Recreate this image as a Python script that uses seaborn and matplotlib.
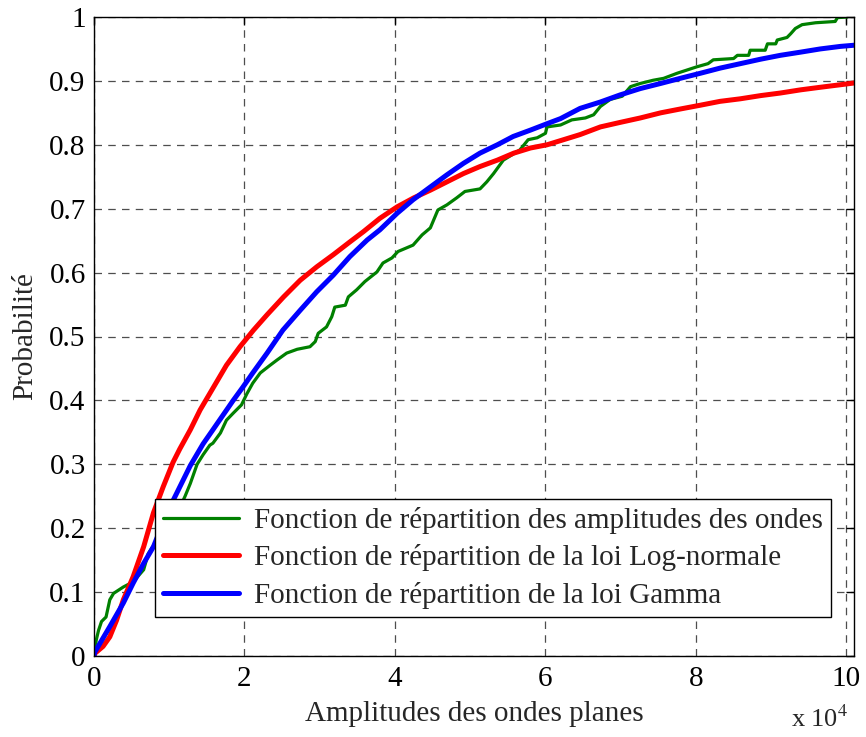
import numpy as np
import pandas as pd
import matplotlib
matplotlib.use("Agg")
import matplotlib.pyplot as plt
import seaborn as sns

# ---- data (x in units of 1e4) ----
emp_x = [0.00, 0.03, 0.06, 0.10, 0.16, 0.21, 0.26, 0.39, 0.52, 0.66, 0.72, 0.78, 0.88, 1.01, 1.14,
         1.21, 1.28, 1.37, 1.45, 1.54, 1.58, 1.68, 1.76, 1.85, 1.96, 2.03, 2.11, 2.21, 2.34, 2.43,
         2.56, 2.70, 2.87, 2.94, 2.98, 3.09, 3.16, 3.20, 3.34, 3.38, 3.49, 3.60, 3.76, 3.84, 3.96,
         4.04, 4.24, 4.36, 4.47, 4.57, 4.69, 4.82, 4.93, 5.13, 5.22, 5.31, 5.44, 5.55, 5.66, 5.77,
         5.89, 6.00, 6.02, 6.20, 6.35, 6.53, 6.64, 6.73, 6.86, 7.02, 7.13, 7.26, 7.43, 7.57, 7.75,
         7.88, 8.01, 8.16, 8.23, 8.50, 8.55, 8.70, 8.72, 8.92, 8.95, 9.06, 9.08, 9.21, 9.26, 9.32,
         9.41, 9.59, 9.85, 9.88, 10.01]
emp_y = [0.000, 0.025, 0.040, 0.054, 0.061, 0.088, 0.098, 0.108, 0.116, 0.135, 0.160, 0.171, 0.180, 0.200, 0.232,
         0.250, 0.270, 0.300, 0.315, 0.330, 0.333, 0.349, 0.369, 0.380, 0.393, 0.410, 0.427, 0.443, 0.455, 0.463,
         0.474, 0.480, 0.484, 0.492, 0.505, 0.515, 0.531, 0.546, 0.549, 0.562, 0.573, 0.586, 0.601, 0.615, 0.623,
         0.633, 0.643, 0.659, 0.670, 0.698, 0.706, 0.717, 0.727, 0.731, 0.742, 0.755, 0.776, 0.784, 0.792, 0.808,
         0.811, 0.818, 0.828, 0.831, 0.839, 0.842, 0.847, 0.860, 0.871, 0.876, 0.891, 0.896, 0.901, 0.904, 0.912,
         0.917, 0.922, 0.927, 0.933, 0.935, 0.940, 0.940, 0.948, 0.948, 0.958, 0.958, 0.964, 0.968, 0.974, 0.982,
         0.988, 0.991, 0.993, 0.999, 1.000]

logn_x = [0.00, 0.01, 0.12, 0.21, 0.30, 0.39, 0.52, 0.66, 0.79, 0.92, 1.05, 1.14, 1.28, 1.41, 1.59,
          1.76, 1.94, 2.12, 2.30, 2.52, 2.74, 2.96, 3.18, 3.40, 3.58, 3.80, 4.03, 4.25, 4.47, 4.69,
          4.91, 5.13, 5.36, 5.58, 5.80, 6.02, 6.24, 6.46, 6.73, 6.99, 7.26, 7.53, 7.79, 8.06, 8.32,
          8.59, 8.86, 9.12, 9.39, 9.65, 9.92, 10.12]
logn_y = [0.000, 0.004, 0.015, 0.030, 0.056, 0.088, 0.124, 0.171, 0.224, 0.265, 0.303, 0.324, 0.354, 0.385, 0.421,
          0.455, 0.484, 0.510, 0.534, 0.562, 0.588, 0.609, 0.628, 0.648, 0.664, 0.685, 0.703, 0.717, 0.729, 0.742,
          0.755, 0.766, 0.776, 0.787, 0.795, 0.800, 0.808, 0.816, 0.828, 0.835, 0.842, 0.850, 0.856, 0.862, 0.868,
          0.872, 0.877, 0.881, 0.886, 0.890, 0.894, 0.897]

gam_x = [0.00, 0.01, 0.21, 0.39, 0.52, 0.66, 0.79, 0.97, 1.10, 1.28, 1.45, 1.58, 1.85, 1.98, 2.11,
         2.30, 2.51, 2.74, 2.96, 3.18, 3.40, 3.63, 3.80, 4.03, 4.24, 4.47, 4.69, 4.91, 5.13, 5.36,
         5.57, 5.80, 6.02, 6.20, 6.46, 6.73, 6.99, 7.26, 7.53, 7.79, 8.06, 8.32, 8.59, 8.86, 9.12,
         9.39, 9.65, 9.92, 10.12]
gam_y = [0.000, 0.006, 0.046, 0.083, 0.114, 0.145, 0.171, 0.224, 0.255, 0.298, 0.332, 0.354, 0.400, 0.421, 0.443,
         0.474, 0.510, 0.541, 0.570, 0.596, 0.625, 0.651, 0.667, 0.693, 0.714, 0.734, 0.753, 0.771, 0.787, 0.800,
         0.813, 0.823, 0.833, 0.841, 0.857, 0.867, 0.878, 0.888, 0.896, 0.904, 0.912, 0.920, 0.927, 0.934, 0.940,
         0.945, 0.950, 0.954, 0.956]

labels = ["Fonction de répartition des amplitudes des ondes",
          "Fonction de répartition de la loi Log-normale",
          "Fonction de répartition de la loi Gamma"]
colors = ["#008000", "#ff0000", "#0000ff"]
widths = [2.3, 3.6, 3.6]

x_ticks = [0, 2, 4, 6, 8, 10]
y_ticks = [0, 0.1, 0.2, 0.3, 0.4, 0.5, 0.6, 0.7, 0.8, 0.9, 1]
y_ticklabels = ["0", "0.1", "0.2", "0.3", "0.4", "0.5", "0.6", "0.7", "0.8", "0.9", "1"]

sns.set_theme(style="white")
plt.rcParams['font.family'] = ['Liberation Serif', 'DejaVu Serif']
plt.rcParams['mathtext.fontset'] = 'stix'
FS = 21

fig = plt.figure(figsize=(8.66, 7.37), dpi=100)
ax = fig.add_axes([94/866, 81/737, 760/866, 639/737])

series = [(emp_x, emp_y), (logn_x, logn_y), (gam_x, gam_y)]
for (xs, ys), lab, c, w in zip(series, labels, colors, widths):
    df = pd.DataFrame({"x": xs, "y": ys})
    sns.lineplot(data=df, x="x", y="y", ax=ax, color=c, linewidth=w, label=lab,
                 sort=False, estimator=None)

ax.set_xlim(0, 10.1)
ax.set_ylim(0, 1)
ax.set_xticks(x_ticks)
ax.set_xticklabels([str(t) for t in x_ticks])
ax.set_yticks(y_ticks)
ax.set_yticklabels(y_ticklabels)
ax.tick_params(axis='both', direction='in', length=6, width=1, labelsize=FS,
               top=True, right=True, colors='black')
ax.tick_params(axis='x', pad=7)
ax.tick_params(axis='y', pad=6)
ax.grid(True, color='#222222', linestyle=(0, (6, 5)), linewidth=0.9, alpha=0.8)
for s in ax.spines.values():
    s.set_color('black')
    s.set_linewidth(1.0)

ax.set_xlabel("Amplitudes des ondes planes", fontsize=FS, labelpad=7)
ax.set_ylabel("Probabilité", fontsize=FS, labelpad=8)
fig.text(820/866, 1 - 719/737, r"x 10$^{4}$", fontsize=FS - 2, ha='center', va='center')

leg = ax.legend(loc='lower left', bbox_to_anchor=((155 - 94) / 760, (656 - 617) / 639),
                fontsize=FS, frameon=True, fancybox=False, borderaxespad=0,
                handlelength=2.6, handletextpad=0.5, labelspacing=0.36, borderpad=0.28,
                framealpha=1.0)
leg.get_frame().set_edgecolor('black')
leg.get_frame().set_linewidth(1.0)
leg._legend_box.sep = 4

fig.savefig("out.png", dpi=100, facecolor='white')
